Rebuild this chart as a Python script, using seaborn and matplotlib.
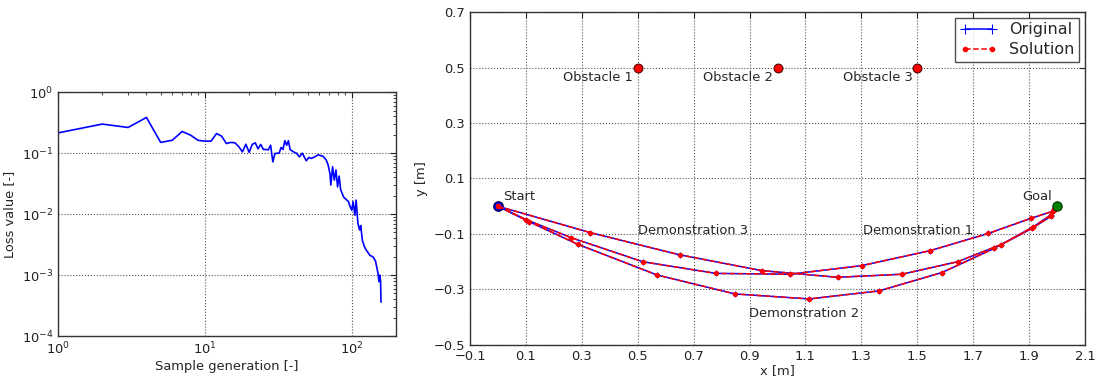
import numpy as np
import pandas as pd
import matplotlib
matplotlib.use("Agg")
import matplotlib.pyplot as plt
from matplotlib.lines import Line2D
from matplotlib.ticker import LogLocator, FixedLocator
import seaborn as sns

# ---------------- data ----------------
generations = [1, 2, 3, 4, 5, 6, 7, 8, 9, 10, 11, 12, 13, 14, 15, 16, 17, 18, 19, 20,
               21, 22, 23, 24, 25, 26, 27, 28, 29, 30, 32, 33, 34, 35, 36, 37, 38, 40,
               42, 44, 46, 49, 51, 53, 56, 59, 64, 67, 69, 71, 72, 74, 76, 78, 80, 82,
               84, 86, 88, 95, 97, 100, 102, 105, 107, 110, 113, 115, 118, 122, 125,
               133, 139, 145, 151, 153, 155, 157, 158]
loss_values = [0.215, 0.30, 0.264, 0.385, 0.15, 0.163, 0.227, 0.197, 0.162, 0.158,
               0.157, 0.21, 0.19, 0.144, 0.15, 0.148, 0.128, 0.105, 0.14, 0.103,
               0.139, 0.148, 0.118, 0.139, 0.115, 0.115, 0.113, 0.135, 0.072, 0.099,
               0.1, 0.124, 0.115, 0.16, 0.135, 0.16, 0.115, 0.105,
               0.1, 0.087, 0.1, 0.075, 0.085, 0.082, 0.087, 0.094, 0.088, 0.077,
               0.064, 0.046, 0.030, 0.06, 0.036, 0.053, 0.028, 0.042,
               0.025, 0.0218, 0.019, 0.016, 0.0136, 0.0116, 0.016, 0.0096, 0.017,
               0.0071, 0.0055, 0.0065, 0.0037, 0.0029, 0.0026,
               0.0021, 0.002, 0.0017, 0.00105, 0.00078, 0.001, 0.0008, 0.00036]

demo3_x = [0.0, 0.33, 0.65, 0.944, 1.215, 1.445, 1.644, 1.80, 1.915, 1.98, 1.99]
demo3_y = [0.0, -0.095, -0.175, -0.232, -0.256, -0.245, -0.200, -0.138, -0.074, -0.03, -0.012]
demo1_x = [0.0, 0.10, 0.261, 0.518, 0.78, 1.045, 1.301, 1.546, 1.754, 1.908, 1.985, 1.99]
demo1_y = [0.0, -0.048, -0.113, -0.200, -0.242, -0.245, -0.214, -0.160, -0.098, -0.043, -0.018, -0.01]
demo2_x = [0.0, 0.11, 0.285, 0.57, 0.848, 1.114, 1.363, 1.588, 1.775, 1.91, 1.98, 1.99]
demo2_y = [0.0, -0.055, -0.137, -0.248, -0.316, -0.334, -0.305, -0.239, -0.152, -0.08, -0.035, -0.015]

obstacle_x = [0.5, 1.0, 1.5]
obstacle_y = [0.5, 0.5, 0.5]
obstacle_labels = ["Obstacle 1", "Obstacle 2", "Obstacle 3"]
start_xy = (0.0, 0.0)
goal_xy = (2.0, 0.0)
demo_labels = ["Demonstration 1", "Demonstration 2", "Demonstration 3"]

# ---------------- style ----------------
sns.set_style("white")
plt.rcParams.update({
    "font.family": ["DejaVu Sans"],
    "font.size": 9.4,
    "axes.edgecolor": "#333333",
    "axes.linewidth": 1.0,
    "xtick.direction": "in",
    "ytick.direction": "in",
    "xtick.top": True,
    "ytick.right": True,
    "xtick.major.size": 4,
    "ytick.major.size": 4,
    "xtick.minor.size": 2,
    "ytick.minor.size": 2,
    "xtick.color": "#222222",
    "ytick.color": "#222222",
    "xtick.labelsize": 9.4,
    "ytick.labelsize": 9.4,
    "axes.labelsize": 9.4,
})

fig = plt.figure(figsize=(11.01, 3.81), dpi=100)
ax1 = fig.add_axes([0.0527, 0.118, 0.307, 0.640])
ax2 = fig.add_axes([0.4269, 0.0945, 0.5586, 0.874])

# ---------------- left: loss ----------------
df_loss = pd.DataFrame({"gen": generations, "loss": loss_values})
sns.lineplot(data=df_loss, x="gen", y="loss", ax=ax1, color="blue", lw=1.2,
             estimator=None, sort=False)
ax1.set_xscale("log")
ax1.set_yscale("log")
ax1.set_xlim(1, 200)
ax1.set_ylim(1e-4, 1)
ax1.yaxis.set_major_locator(LogLocator(base=10, numticks=10))
ax1.yaxis.set_minor_locator(LogLocator(base=10, subs=np.arange(2, 10), numticks=20))
ax1.xaxis.set_major_locator(LogLocator(base=10, numticks=10))
ax1.xaxis.set_minor_locator(LogLocator(base=10, subs=np.arange(2, 10), numticks=20))
ax1.set_xlabel("Sample generation [-]", labelpad=2)
ax1.set_ylabel("Loss value [-]", labelpad=4)
ax1.grid(True, which="major", linestyle=":", color="#555555", lw=0.8)
ax1.tick_params(which="both", top=True, right=True, direction="in")

# ---------------- right: trajectories ----------------
sns.scatterplot(x=[start_xy[0]], y=[start_xy[1]], ax=ax2, color="blue", s=45,
                edgecolor="#000055", linewidth=1.0, zorder=1.5)

demos = [(demo1_x, demo1_y), (demo2_x, demo2_y), (demo3_x, demo3_y)]
for dx, dy in demos:
    sns.lineplot(x=dx, y=dy, ax=ax2, sort=False, estimator=None, color="blue",
                 lw=1.1, marker="+", markersize=4.5, markeredgewidth=0.7,
                 markeredgecolor="blue", zorder=2)
for dx, dy in demos:
    sns.lineplot(x=dx, y=dy, ax=ax2, sort=False, estimator=None, color="red",
                 lw=1.1, linestyle="--", marker=".", markersize=6,
                 markeredgecolor="red", zorder=3)

sns.scatterplot(x=obstacle_x, y=obstacle_y, ax=ax2, color="red", s=40,
                edgecolor="#550000", linewidth=0.8, zorder=5)
sns.scatterplot(x=[goal_xy[0]], y=[goal_xy[1]], ax=ax2, color="green", s=45,
                edgecolor="#003300", linewidth=0.8, zorder=5)

for ox, oy, lab in zip(obstacle_x, obstacle_y, obstacle_labels):
    ax2.text(ox - 0.018, oy - 0.037, lab, ha="right", va="center")
ax2.text(start_xy[0] + 0.019, start_xy[1] + 0.034, "Start", ha="left", va="center")
ax2.text(goal_xy[0] - 0.019, goal_xy[1] + 0.034, "Goal", ha="right", va="center")
ax2.text(1.304, -0.086, demo_labels[0], ha="left", va="center")
ax2.text(0.898, -0.385, demo_labels[1], ha="left", va="center")
ax2.text(0.502, -0.086, demo_labels[2], ha="left", va="center")

ax2.set_xlim(-0.1, 2.1)
ax2.set_ylim(-0.5, 0.7)
ax2.xaxis.set_major_locator(FixedLocator(np.round(np.arange(-0.1, 2.11, 0.2), 1)))
ax2.yaxis.set_major_locator(FixedLocator(np.round(np.arange(-0.5, 0.71, 0.2), 1)))
ax2.set_xlabel("x [m]", labelpad=1)
ax2.set_ylabel("y [m]", labelpad=4)
ax2.grid(True, which="major", linestyle=":", color="#555555", lw=0.8)
ax2.tick_params(which="both", top=True, right=True, direction="in")

handles = [
    Line2D([], [], color="blue", lw=1.1, marker="+", markersize=7, markeredgewidth=0.8),
    Line2D([], [], color="red", lw=1.1, linestyle="--", marker=".", markersize=6),
]
leg = ax2.legend(handles, ["Original", "Solution"], loc="upper right", numpoints=2,
                 fontsize=11.5, frameon=True, fancybox=False, borderaxespad=0.35,
                 handlelength=2.3, borderpad=0.3, labelspacing=0.3)
leg.get_frame().set_edgecolor("#222222")
leg.get_frame().set_linewidth(1.0)

fig.savefig("out.png", dpi=100)
